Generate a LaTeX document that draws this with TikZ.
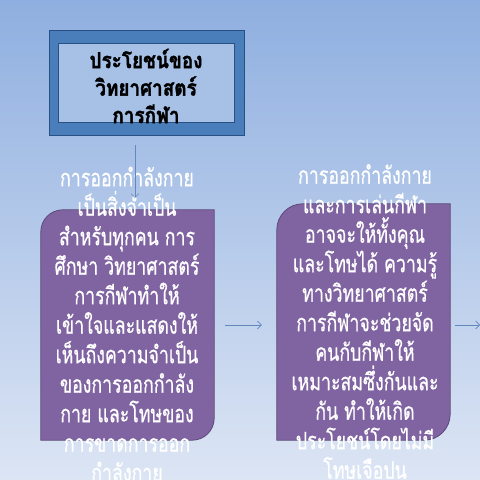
\documentclass[tikz,border=0pt]{standalone}
\usepackage{fontspec}
\newfontfamily\thaifont[Script=Thai, FakeStretch=0.74, FakeBold=0.6]{Loma}
\newfontfamily\thaititle[Script=Thai, FakeStretch=0.86, FakeBold=1.5]{Loma}
\usetikzlibrary{arrows.meta}
\definecolor{bgtop}{RGB}{143,175,224}
\definecolor{bgbot}{RGB}{220,229,244}
\definecolor{titleout}{RGB}{74,126,187}
\definecolor{titlein}{RGB}{166,192,230}
\definecolor{titleline}{RGB}{40,80,130}
\definecolor{purplefill}{RGB}{128,100,162}
\definecolor{purpleline}{RGB}{92,72,120}
\definecolor{arrowcol}{RGB}{100,135,190}
\tikzset{
  conn/.style={draw=arrowcol, line width=0.7pt, -{Straight Barb[length=4pt,width=8pt]}},
  bodytext/.style={text=white, align=center, inner sep=0pt, font=\thaifont\fontsize{24}{29.5}\selectfont},
  titletext/.style={text=black, align=center, inner sep=0pt, font=\thaititle\bfseries\fontsize{22}{27.5}\selectfont},
  purplebox/.style={fill=purplefill, draw=purpleline, line width=0.8pt},
}
\begin{document}
\begin{tikzpicture}[x=1pt,y=1pt]
\clip (0,0) rectangle (480,480);
\shade[top color=bgtop, bottom color=bgbot] (0,0) rectangle (480,480);
% title
\node (title) [draw=titleline, fill=titleout, line width=0.8pt, minimum width=195, minimum height=105, inner sep=0pt] at (146.5,397.5) {};
\node (titlein) [draw=titleline, fill=titlein, line width=0.8pt, minimum width=176, minimum height=79, inner sep=0pt] at (146,397.5) {};
\node (titlet) [titletext] at (146,394) {ประโยชน์ของ\\วิทยาศาสตร์\\การกีฬา};
% boxes (anchors)
\node (left) [minimum width=173, minimum height=230, inner sep=0pt] at (127.5,155) {};
\node (right) [minimum width=173, minimum height=236, inner sep=0pt] at (363.5,158) {};
\draw[purplebox] (left.south west) -- ([yshift=-22]left.north west) arc[start angle=180,end angle=90,radius=22] -- (left.north east) -- ([yshift=22]left.south east) arc[start angle=0,end angle=-90,radius=22] -- cycle;
\draw[purplebox] (right.south west) -- ([yshift=-26]right.north west) arc[start angle=180,end angle=90,radius=26] -- (right.north east) -- ([yshift=26]right.south east) arc[start angle=0,end angle=-90,radius=26] -- cycle;
\node (lefttext) [bodytext] at (127,156) {การออกกำลังกาย\\เป็นสิ่งจำเป็น\\สำหรับทุกคน การ\\ศึกษา วิทยาศาสตร์\\การกีฬาทำให้\\เข้าใจและแสดงให้\\เห็นถึงความจำเป็น\\ของการออกกำลัง\\กาย และโทษของ\\การขาดการออก\\กำลังกาย};
\node (righttext) [bodytext] at (365,158.5) {การออกกำลังกาย\\และการเล่นกีฬา\\อาจจะให้ทั้งคุณ\\และโทษได้ ความรู้\\ทางวิทยาศาสตร์\\การกีฬาจะช่วยจัด\\คนกับกีฬาให้\\เหมาะสมซึ่งกันและ\\กัน ทำให้เกิด\\ประโยชน์โดยไม่มี\\โทษเจือปน};
% connectors
\coordinate (a1s) at (135,335);
\coordinate (a1e) at (135,282);
\draw[conn] (a1s) -- (a1e);
\draw[conn, shorten <=11pt, shorten >=15pt] (left.east |- 0,155) -- (right.west |- 0,155);
\coordinate (edge) at (480,155);
\draw[conn, shorten <=5pt] (right.east |- 0,155) -- (edge);
\end{tikzpicture}
\end{document}
